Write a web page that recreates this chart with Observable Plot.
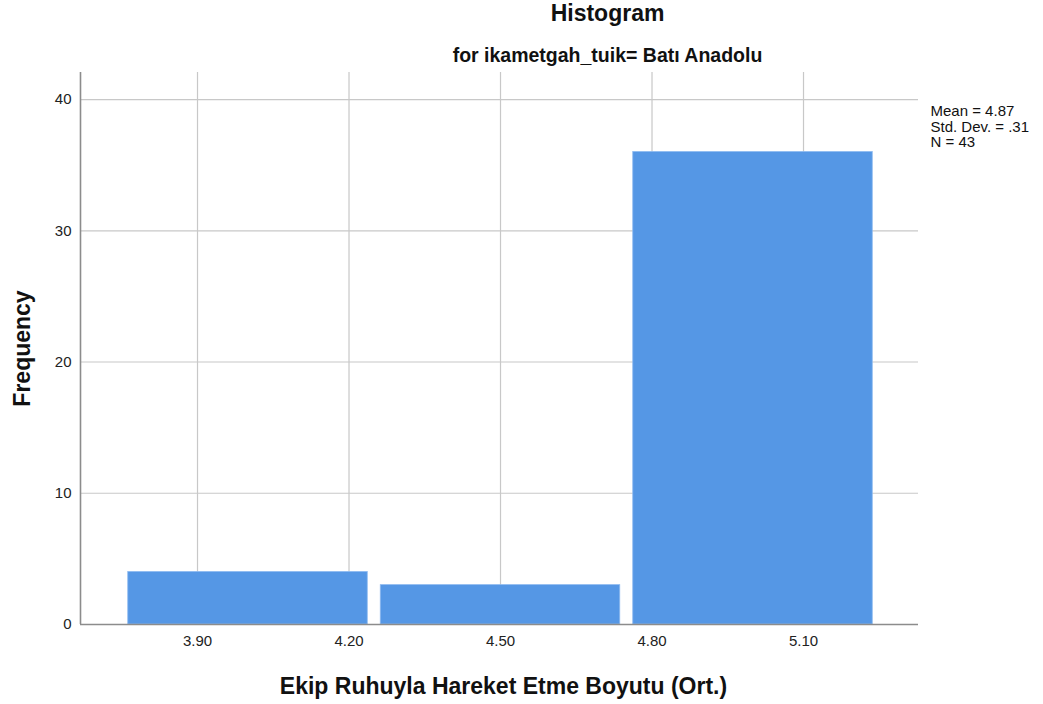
<!DOCTYPE html>
<html>
<head>
<meta charset="utf-8">
<script src="https://cdn.jsdelivr.net/npm/d3@7"></script>
<script src="https://cdn.jsdelivr.net/npm/@observablehq/plot@0.6"></script>
<style>
  html, body { margin: 0; padding: 0; background: #fff; }
  #chart svg { display: block; }
</style>
</head>
<body>
<div id="chart"></div>
<script>
// Data
const binStarts = [3.75, 4.25, 4.75];
const binEnds = [4.25, 4.75, 5.25];
const counts = [4, 3, 36];
const xTicks = [3.90, 4.20, 4.50, 4.80, 5.10];
const yTicks = [0, 10, 20, 30, 40];
const titleText = "Histogram";
const subtitleText = "for ikametgah_tuik= Batı Anadolu";
const statsLines = ["Mean = 4.87", "Std. Dev. = .31", "N = 43"];
const xLabel = "Ekip Ruhuyla Hareket Etme Boyutu (Ort.)";
const yLabel = "Frequency";

const bins = binStarts.map((s, i) => ({x1: s, x2: binEnds[i], count: counts[i]}));
const font = "'Liberation Sans', Arial, sans-serif";

const chart = Plot.plot({
  width: 1043,
  height: 704,
  marginLeft: 80,
  marginRight: 125,
  marginTop: 72,
  marginBottom: 80,
  style: {fontFamily: font, fontSize: "15px", color: "#000", background: "#fff"},
  x: {domain: [3.6683, 5.3277]},
  y: {domain: [0, 42.06]},
  marks: [
    Plot.gridX(xTicks, {stroke: "#c8c8c8", strokeOpacity: 1, strokeWidth: 1.2}),
    Plot.gridY(yTicks.filter(d => d > 0), {stroke: "#c8c8c8", strokeOpacity: 1, strokeWidth: 1.2}),
    Plot.rectY(bins, {x1: "x1", x2: "x2", y: "count", fill: "#5597e5", stroke: "#8dbaf0", strokeWidth: 0.8, insetLeft: 6.5, insetRight: 6.5}),
    Plot.ruleY([0], {stroke: "#8c8c8c", strokeWidth: 1.6}),
    Plot.ruleX([3.6683], {stroke: "#8c8c8c", strokeWidth: 1.6}),
    Plot.axisX(xTicks, {tickSize: 0, tickPadding: 11, fontSize: 15, label: null, fill: "#222", tickFormat: d3.format(".2f")}),
    Plot.axisY(yTicks, {tickSize: 0, tickPadding: 9, fontSize: 15, label: null, fill: "#222"}),
    // axis labels
    Plot.text([xLabel], {frameAnchor: "bottom", dy: 62, lineAnchor: "middle", fontSize: 23, fontWeight: "bold", dx: 4, fill: "#111"}),
    Plot.text([yLabel], {frameAnchor: "left", dx: -58, rotate: -90, textAnchor: "middle", lineAnchor: "middle", fontSize: 23, fontWeight: "bold", fill: "#111"}),
    // title and subtitle
    Plot.text([titleText], {frameAnchor: "top-left", dx: 527, dy: -58.5, textAnchor: "middle", lineAnchor: "middle", fontSize: 23, fontWeight: "bold", fill: "#111"}),
    Plot.text([subtitleText], {frameAnchor: "top-left", dx: 527, dy: -16.5, textAnchor: "middle", lineAnchor: "middle", fontSize: 19.5, fontWeight: "bold", fill: "#111"}),
    // stats
    Plot.text([statsLines.join("\n")], {frameAnchor: "top-right", dx: 12, dy: 33, textAnchor: "start", lineAnchor: "top", fontSize: 15, lineHeight: 1.03, fill: "#111"})
  ]
});
document.getElementById("chart").appendChild(chart);
</script>
</body>
</html>
